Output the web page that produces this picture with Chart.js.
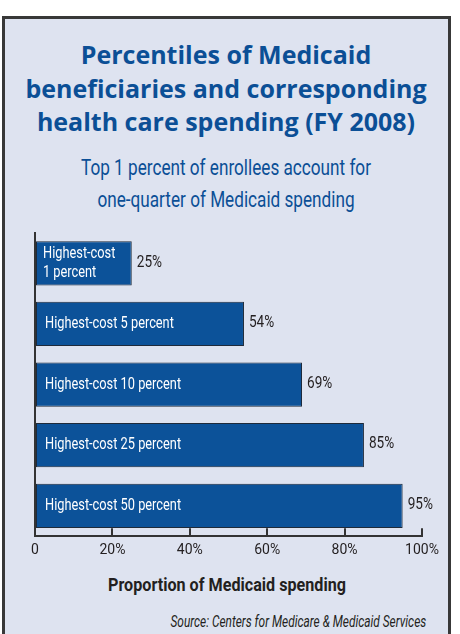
<!DOCTYPE html>
<html>
<head>
<meta charset="utf-8">
<script src="https://cdn.jsdelivr.net/npm/chart.js@4"></script>
<style>
  body { margin: 0; background: #fff; width: 460px; height: 634px; overflow: hidden; position: relative; }
  .box { position: absolute; left: 2px; top: 16px; width: 443px; height: 660px; border: 3px solid #383838; background: #dee3f0; }
  .title { position: absolute; left: 0; top: 38px; width: 452px; text-align: center; font: bold 25px "Open Sans", sans-serif; line-height: 33.5px; color: #0b4f96; }
  .subtitle { position: absolute; left: 0; top: 152px; width: 452px; text-align: center; font: 22px Roboto, sans-serif; line-height: 32px; color: #0b4f96; transform: scaleX(0.78); transform-origin: 226px 0; }
  .axis-title { position: absolute; left: 0; top: 573px; width: 454px; text-align: center; font: bold 19px Roboto, sans-serif; line-height: 24px; color: #231f20; transform: scaleX(0.85); transform-origin: 227px 0; }
  .source { position: absolute; right: 34px; top: 611px; font: italic 16px Roboto, sans-serif; line-height: 22px; color: #231f20; transform: scaleX(0.743); transform-origin: 100% 0; }
  canvas { position: absolute; left: 0; top: 0; }
</style>
</head>
<body>
<div class="box"></div>
<div class="title">Percentiles of Medicaid<br>beneficiaries and corresponding<br>health care spending (FY 2008)</div>
<div class="subtitle">Top 1 percent of enrollees account for<br>one-quarter of Medicaid spending</div>
<div class="axis-title">Proportion of Medicaid spending</div>
<div class="source">Source: Centers for Medicare &amp; Medicaid Services</div>
<canvas id="chart" width="460" height="634"></canvas>
<script>
// chart data
const categories = [["Highest-cost", "1 percent"], "Highest-cost 5 percent", "Highest-cost 10 percent", "Highest-cost 25 percent", "Highest-cost 50 percent"];
const spendingShare = [25, 54, 69, 85, 95];
const tickLabels = ["0", "20%", "40%", "60%", "80%", "100%"];

// draw text squeezed horizontally (the original uses a condensed face)
function narrowText(ctx, text, x, y, sx) {
    ctx.save();
    ctx.translate(x, y);
    ctx.scale(sx, 1);
    ctx.fillText(text, 0, 0);
    ctx.restore();
}

// labels inside and beside the bars
const barLabels = {
    id: "barLabels",
    afterDatasetsDraw(chart) {
        const ctx = chart.ctx;
        const meta = chart.getDatasetMeta(0);
        ctx.save();
        ctx.textBaseline = "middle";
        ctx.textAlign = "left";
        meta.data.forEach((bar, i) => {
            // value to the right of the bar
            ctx.fillStyle = "#231f20";
            ctx.font = "17px Roboto, sans-serif";
            narrowText(ctx, spendingShare[i] + "%", bar.x + 5, bar.y - 1, 0.8);

            // category inside the bar
            ctx.fillStyle = "#ffffff";
            ctx.font = "16px Roboto, sans-serif";
            const lab = categories[i];
            if (Array.isArray(lab)) {
                narrowText(ctx, lab[0], bar.base + 7, bar.y - 9.5, 0.8);
                narrowText(ctx, lab[1], bar.base + 7, bar.y + 9.5, 0.8);
            } else {
                narrowText(ctx, lab, bar.base + 9, bar.y, 0.8);
            }
        });
        ctx.restore();
    }
};

new Chart(document.getElementById("chart"), {
    type: "bar",
    data: {
        labels: categories,
        datasets: [{
            data: spendingShare,
            backgroundColor: "#0c5299",
            borderColor: "#1e2a3a",
            borderWidth: 1,
            borderSkipped: false,
            categoryPercentage: 0.73,
            barPercentage: 1
        }]
    },
    options: {
        indexAxis: "y",
        responsive: false,
        devicePixelRatio: 1,
        animation: false,
        layout: { padding: { top: 233, left: 35, right: 38, bottom: 61 } },
        plugins: {
            legend: { display: false },
            tooltip: { enabled: false }
        },
        scales: {
            x: {
                min: 0,
                max: 100,
                ticks: {
                    stepSize: 20,
                    autoSkip: false,
                    maxRotation: 0,
                    padding: 14,
                    color: "#231f20",
                    font: { family: "Roboto", size: 14 },
                    callback: (v, i) => tickLabels[i]
                },
                grid: { drawOnChartArea: false, drawTicks: true, tickLength: -8, color: "#333", lineWidth: 2 },
                border: { display: true, color: "#333", width: 2 }
            },
            y: {
                ticks: { display: false },
                grid: { display: false, drawTicks: false, tickLength: 0 },
                border: { display: true, color: "#333", width: 2 }
            }
        }
    },
    plugins: [barLabels]
});
</script>
</body>
</html>
